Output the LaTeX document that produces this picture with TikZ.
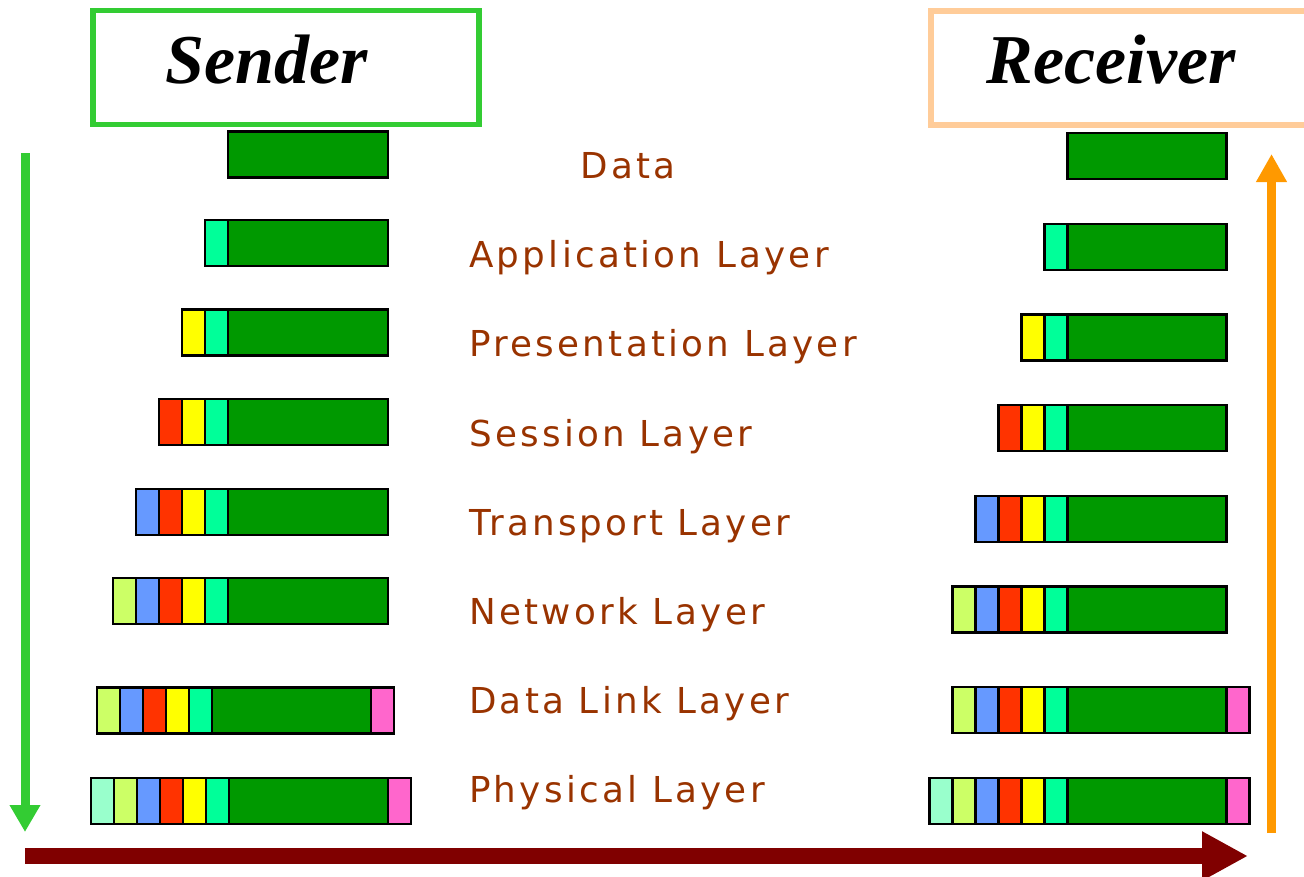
\documentclass[tikz,border=0pt]{standalone}
\usepackage{fontspec}
\setmainfont{Liberation Serif}
\newfontfamily\layerfont[LetterSpace=9.2]{DejaVu Sans}
\usetikzlibrary{arrows.meta}

% header / payload colours
\definecolor{cData}{HTML}{009900}
\definecolor{cApp}{HTML}{00FF99}
\definecolor{cPres}{HTML}{FFFF00}
\definecolor{cSess}{HTML}{FF3300}
\definecolor{cTrans}{HTML}{6699FF}
\definecolor{cNet}{HTML}{CCFF66}
\definecolor{cPhys}{HTML}{99FFCC}
\definecolor{cLink}{HTML}{FF66CC}
% frame, label and arrow colours
\definecolor{cLabel}{HTML}{993300}
\definecolor{cSender}{HTML}{33CC33}
\definecolor{cReceiver}{HTML}{FFCC99}
\definecolor{cUp}{HTML}{FF9900}
\definecolor{cWire}{HTML}{800000}

% one encapsulated packet:
% #1 name, #2 y centre, #3 payload left, #4 payload right,
% #5 number of headers, #6 trailer (1) or not (0)
\newcommand\packet[6]{%
  \node[segbox, fill=cData, minimum width={(#4-#3)*1bp}] (#1-data) at (#3,#2) {};
  \foreach \c [count=\i] in {cApp,cPres,cSess,cTrans,cNet,cPhys}{%
    \ifnum\i>#5\relax\else
      \node[segbox, fill=\c, minimum width=23bp] (#1-h\i) at ({#3-23*\i},#2) {};
    \fi}%
  \ifnum#6=1
    \node[segbox, fill=cLink, minimum width=23bp] (#1-trail) at (#4,#2) {};
  \fi
}

\begin{document}
\begin{tikzpicture}[x=1bp, y=-1bp,
  segbox/.style={draw=black, line width=2.2bp, minimum height=46bp,
    inner sep=0pt, outer sep=0pt, anchor=west},
  layer/.style={font=\layerfont\fontsize{35.7bp}{40bp}\selectfont,
    text=cLabel, inner sep=0pt, anchor=base west},
  title/.style={font=\fontsize{70bp}{80bp}\selectfont\bfseries\itshape,
    inner sep=0pt, anchor=base},
  frame/.style={line width=5.5bp, minimum height=114bp, inner sep=0pt},
  downarrow/.style={draw=cSender, line width=9bp,
    -{Triangle[length=27bp, width=29bp]}},
  uparrow/.style={draw=cUp, line width=9bp,
    -{Triangle[length=28bp, width=29bp]}},
  wirearrow/.style={draw=cWire, line width=16bp,
    -{Triangle[length=46bp, width=46bp]}}]

\useasboundingbox (0,0) rectangle (1304,876);

% title frames
\node[frame, draw=cSender, minimum width=386bp] (senderbox) at (286,67.5) {};
\node[frame, draw=cReceiver, line width=6bp, minimum width=379bp] (receiverbox) at (1120.5,68) {};
\node[title] (sendertext) at (267,83) {Sender};
\node[title] (receivertext) at (1111,83) {Receiver};

% sender side: headers added on the way down
\packet{s0}{154.5}{228}{388}{0}{0}
\packet{s1}{243}{228}{388}{1}{0}
\packet{s2}{332.5}{228}{388}{2}{0}
\packet{s3}{422}{228}{388}{3}{0}
\packet{s4}{512}{228}{388}{4}{0}
\packet{s5}{601}{228}{388}{5}{0}
\packet{s6}{710.5}{212}{371}{5}{1}
\packet{s7}{801}{229}{388}{6}{1}

% receiver side: headers stripped on the way up
\packet{r0}{156}{1067.5}{1226.5}{0}{0}
\packet{r1}{247}{1067.5}{1226.5}{1}{0}
\packet{r2}{337.5}{1067.5}{1226.5}{2}{0}
\packet{r3}{428}{1067.5}{1226.5}{3}{0}
\packet{r4}{519}{1067.5}{1226.5}{4}{0}
\packet{r5}{609.5}{1067.5}{1226.5}{5}{0}
\packet{r6}{710}{1067.5}{1226.5}{5}{1}
\packet{r7}{801}{1067.5}{1226.5}{6}{1}

% layer names
\node[layer, anchor=base] (ldata) at (628,178) {Data};
\node[layer] (lapp) at (469,267) {Application Layer};
\node[layer] (lpres) at (469,356) {Presentation Layer};
\node[layer] (lsess) at (469,446) {Session Layer};
\node[layer] (ltrans) at (469,535) {Transport Layer};
\node[layer] (lnet) at (469,624) {Network Layer};
\node[layer] (llink) at (469,713) {Data Link Layer};
\node[layer] (lphys) at (469,802) {Physical Layer};

% flow arrows
\coordinate (sendTop) at (25,153);
\coordinate (sendBot) at (25,832);
\coordinate (wireStart) at (25,856);
\coordinate (wireEnd) at (1248,856);
\coordinate (recvBot) at (1271.5,833);
\coordinate (recvTop) at (1271.5,154);
\draw[downarrow] (sendTop) -- (sendBot);
\draw[wirearrow] (wireStart) -- (wireEnd);
\draw[uparrow] (recvBot) -- (recvTop);
\end{tikzpicture}
\end{document}
